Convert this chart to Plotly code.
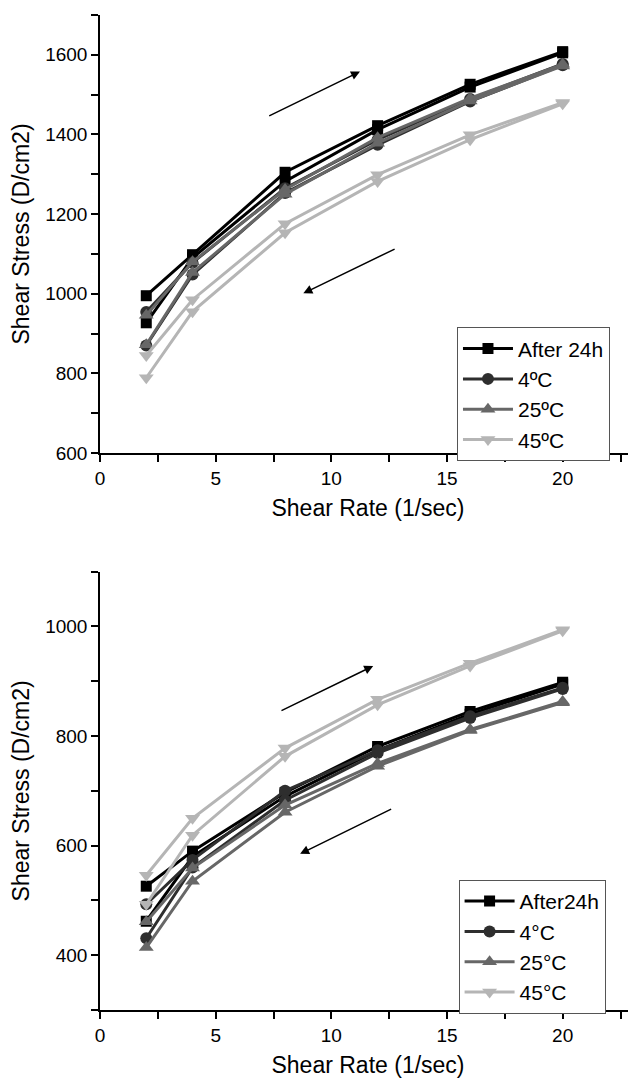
import plotly.graph_objects as go

# shear rate steps (1/sec)
rate = [2, 4, 8, 12, 16, 20]

# top panel - each sample measured going up and coming back down
top_names = ["After 24h", "4ºC", "25ºC", "45ºC"]
top_up = [
    [995, 1098, 1305, 1422, 1526, 1608],
    [954, 1078, 1265, 1387, 1489, 1577],
    [946, 1080, 1262, 1392, 1491, 1576],
    [845, 985, 1176, 1299, 1399, 1480],
]
top_down = [
    [927, 1090, 1282, 1412, 1519, 1605],
    [870, 1048, 1253, 1374, 1483, 1574],
    [872, 1053, 1250, 1378, 1484, 1572],
    [789, 955, 1153, 1282, 1387, 1477],
]

# bottom panel
bot_names = ["After24h", "4°C", "25°C", "45°C"]
bot_up = [
    [526, 590, 697, 781, 845, 898],
    [493, 574, 700, 774, 836, 888],
    [461, 559, 674, 750, 812, 863],
    [546, 650, 778, 867, 933, 994],
]
bot_down = [
    [462, 580, 690, 774, 840, 895],
    [431, 560, 683, 769, 833, 886],
    [414, 535, 661, 745, 810, 861],
    [493, 619, 763, 857, 928, 992],
]

colors = ["#000000", "#2e2e2e", "#676767", "#b5b5b5"]
symbols = ["square", "circle", "triangle-up", "triangle-down"]
msizes = [11, 12, 13, 13]

fig = go.Figure()

def add_panel(names, up, down, xa, ya, leg):
    for i, name in enumerate(names):
        for j, ys in enumerate([up[i], down[i]]):
            fig.add_trace(go.Scatter(
                x=rate, y=ys, name=name, mode="lines+markers",
                line=dict(color=colors[i], width=3),
                marker=dict(symbol=symbols[i], size=msizes[i], color=colors[i]),
                xaxis=xa, yaxis=ya, legend=leg,
                legendgroup=leg + name, showlegend=(j == 0),
            ))

add_panel(top_names, top_up, top_down, "x", "y", "legend")
add_panel(bot_names, bot_up, bot_down, "x2", "y2", "legend2")

font = "Liberation Sans, Arial, sans-serif"
axis_common = dict(
    showline=True, linecolor="black", linewidth=1.5,
    ticks="outside", ticklen=7, tickwidth=1.5, tickcolor="black",
    showgrid=False, zeroline=False,
    tickfont=dict(size=19, color="black", family=font),
    minor=dict(ticks="outside", ticklen=7, tickwidth=1.5, tickcolor="black"),
)

# page body has an 8px margin, so the figure is shrunk to land on the same pixels
fig.update_layout(
    width=628, height=1071,
    margin=dict(l=92, r=0, t=7, b=69, autoexpand=False),
    paper_bgcolor="white", plot_bgcolor="white",
    font=dict(family=font, color="black"),
    xaxis=dict(axis_common, range=[0, 23.17], dtick=5, minor_dtick=2.5,
               anchor="y", domain=[0, 1],
               title=dict(text="Shear Rate (1/sec)", font=dict(size=23), standoff=12)),
    yaxis=dict(axis_common, range=[600, 1700], dtick=200, minor_dtick=100,
               domain=[0.5598, 1], anchor="x",
               title=dict(text="Shear Stress (D/cm2)", font=dict(size=23), standoff=14)),
    xaxis2=dict(axis_common, range=[0, 23.17], dtick=5, minor_dtick=2.5,
                anchor="y2", domain=[0, 1],
                title=dict(text="Shear Rate (1/sec)", font=dict(size=23), standoff=12)),
    yaxis2=dict(axis_common, range=[300, 1100], dtick=200, minor_dtick=100,
                domain=[0, 0.4405], anchor="x2",
                title=dict(text="Shear Stress (D/cm2)", font=dict(size=23), standoff=14)),
    legend=dict(x=0.666, y=0.686, xanchor="left", yanchor="top",
                bordercolor="#555555", borderwidth=1, bgcolor="white",
                font=dict(size=21), itemwidth=50, tracegroupgap=0),
    legend2=dict(x=0.669, y=0.1307, xanchor="left", yanchor="top",
                 bordercolor="#555555", borderwidth=1, bgcolor="white",
                 font=dict(size=21), itemwidth=50, tracegroupgap=0),
)

# direction arrows
arrows = [
    ("x", "y", 7.25, 1445, 11.24, 1558),
    ("x", "y", 12.8, 1114, 8.79, 1001),
    ("x2", "y2", 7.78, 845, 11.81, 928),
    ("x2", "y2", 12.65, 668, 8.65, 585),
]
for xr, yr, x0, y0, x1, y1 in arrows:
    fig.add_annotation(x=x1, y=y1, ax=x0, ay=y0, xref=xr, yref=yr,
                       axref=xr, ayref=yr, showarrow=True, text="",
                       arrowhead=2, arrowsize=1.2, arrowwidth=1.5,
                       arrowcolor="black")

fig.write_html("out.html")
